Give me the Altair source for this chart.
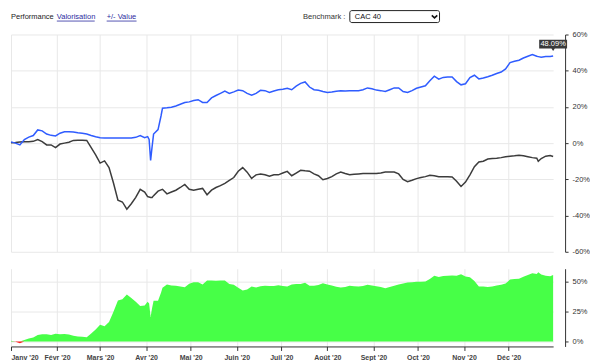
import altair as alt
import pandas as pd

# ---------------- data ----------------
DAY_OFFSETS = [0, 3, 6, 9, 12, 15, 18, 21, 24, 27, 30, 33, 36, 39, 42, 45, 48, 51, 54, 57,
               60, 63, 66, 69, 72, 75, 78, 81, 84, 87, 90, 92, 93, 94, 95, 96, 99, 101, 102,
               105, 108, 111, 114, 117, 120, 123, 126, 129, 132, 135, 138, 141, 144, 147, 150,
               153, 156, 159, 162, 165, 168, 171, 174, 177, 180, 183, 186, 189, 192, 195, 198,
               201, 204, 207, 210, 213, 216, 219, 222, 225, 228, 231, 234, 237, 240, 243, 246,
               249, 252, 255, 258, 261, 264, 267, 270, 273, 276, 279, 282, 285, 288, 291, 294,
               297, 300, 303, 306, 309, 312, 315, 318, 321, 324, 327, 330, 333, 336, 339, 342,
               345, 348, 351, 354, 355, 357, 360, 363, 365]

PERFORMANCE = [0.7, 0.0, -1.0, 2.0, 3.3, 4.2, 7.3, 6.8, 5.0, 4.3, 4.0, 5.5, 6.3, 6.3, 6.2, 5.8,
               5.5, 5.0, 4.2, 3.5, 3.0, 2.8, 2.8, 2.8, 2.8, 2.8, 2.8, 2.8, 3.2, 4.2, 3.0, 3.6,
               2.0, -9.5, -2.0, 5.0, 7.5, 15.0, 19.3, 19.5, 19.8, 20.5, 21.5, 22.4, 22.8, 23.5,
               24.0, 22.5, 22.5, 25.0, 26.3, 27.5, 28.7, 27.5, 28.3, 29.3, 29.0, 27.5, 26.5,
               27.5, 29.2, 29.0, 28.0, 28.8, 29.5, 29.8, 30.3, 29.5, 31.5, 33.0, 33.8, 31.0,
               29.5, 29.2, 28.5, 28.0, 28.3, 28.7, 29.0, 28.8, 29.0, 29.0, 29.0, 29.5, 30.5,
               30.0, 29.3, 29.0, 28.5, 29.5, 30.5, 30.5, 28.5, 28.0, 29.0, 30.3, 31.0, 31.7,
               34.5, 37.0, 35.3, 36.3, 36.5, 36.5, 34.0, 32.2, 32.8, 36.2, 37.5, 35.5, 36.0,
               36.7, 37.5, 38.5, 39.3, 41.0, 44.5, 45.2, 45.8, 47.0, 48.0, 48.9, 48.0, 47.8,
               47.4, 47.8, 47.8, 48.09]

CAC40 = [0.2, 0.3, 0.6, 0.8, 0.8, 1.0, 2.0, 0.8, -1.0, -1.0, -2.5, -0.5, 0.0, 0.5, 1.5, 1.6,
         1.6, 1.5, -2.5, -6.5, -11.0, -9.8, -13.5, -22.0, -31.5, -32.5, -36.5, -33.5, -30.0,
         -25.5, -27.0, -29.5, -29.8, -30.0, -30.0, -29.0, -26.5, -25.8, -25.5, -28.0, -27.0,
         -26.0, -24.5, -22.8, -25.5, -26.0, -25.5, -25.0, -28.5, -26.0, -24.5, -23.5, -22.2,
         -20.6, -19.0, -15.5, -13.5, -16.0, -19.5, -17.5, -17.0, -17.5, -18.3, -17.5, -17.5,
         -16.5, -15.6, -18.0, -16.5, -15.0, -15.3, -15.5, -17.0, -18.0, -20.2, -19.5, -18.5,
         -17.0, -16.0, -16.8, -17.5, -17.2, -17.0, -16.8, -16.8, -16.8, -16.8, -16.5, -16.0,
         -16.0, -16.0, -17.0, -20.0, -21.3, -20.5, -19.6, -19.0, -18.5, -17.8, -18.0, -18.5,
         -18.5, -18.5, -18.7, -21.0, -23.9, -21.5, -17.5, -13.0, -10.4, -10.0, -8.8, -8.5,
         -8.3, -8.0, -7.5, -7.2, -7.0, -6.7, -7.0, -7.5, -8.0, -8.3, -10.0, -8.5, -7.2, -6.8,
         -7.4]

MONTH_LABELS = ["Janv", "Févr", "Mars", "Avr", "Mai", "Juin", "Juil", "Août", "Sept", "Oct", "Nov", "Déc"]
YEAR_SUFFIX = "'20"
TOP_TICKS = [-60, -40, -20, 0, 20, 40, 60]
BOTTOM_TICKS = [0, 25, 50]
TABS = ["Performance", "Valorisation", "+/- Value"]
BENCHMARK_LABEL = "Benchmark :"
BENCHMARK_NAME = "CAC 40"

FONT = "Liberation Sans"
GRID = "#e8e8e8"
AXIS = "#333333"

dates = (pd.Timestamp("2020-01-01") + pd.to_timedelta(DAY_OFFSETS, unit="D")).strftime("%Y-%m-%d")
df = pd.DataFrame({"date": dates, "perf": PERFORMANCE, "bench": CAC40})
tip = pd.DataFrame({"date": [dates[-1]], "value": [PERFORMANCE[-1]]})
one = pd.DataFrame({"k": [0]})

month_ticks = [alt.DateTime(year=2020, month=m, date=1, utc=True) for m in range(1, 13)]
xscale = alt.Scale(type="utc", nice=False, padding=0,
                   domain=[alt.DateTime(year=2020, month=1, date=1, utc=True),
                           alt.DateTime(year=2020, month=12, date=31, utc=True)])
month_arr = "[" + ",".join("'" + m + "'" for m in MONTH_LABELS) + "]"
month_expr = month_arr + "[utcmonth(datum.value)] + \" " + YEAR_SUFFIX + "\""

W = 544
OFF = 12

# ---------------- top panel ----------------
x_top = alt.X("date:T", scale=xscale, title=None,
              axis=alt.Axis(values=month_ticks, labels=False, ticks=False, domain=False,
                            grid=True, gridColor=GRID))
y_top = alt.Y("value:Q", scale=alt.Scale(domain=[-60, 60], nice=False, padding=0, zero=False),
              title=None,
              axis=alt.Axis(orient="right", values=TOP_TICKS, offset=OFF, labelOverlap=False,
                            labelExpr="datum.value + '%'", domainColor=AXIS, tickColor=AXIS,
                            tickSize=3, labelPadding=4, labelFontSize=7.5, labelColor="#333",
                            grid=True, gridColor=GRID))

lines = alt.Chart(df).transform_fold(["bench", "perf"], as_=["key", "value"]).mark_line(
    strokeWidth=1.5).encode(
    x=x_top, y=y_top,
    color=alt.Color("key:N", scale=alt.Scale(domain=["bench", "perf"], range=["#3c3c3c", "#2f5cff"]),
                    legend=None))

tip_box = alt.Chart(tip).mark_point(
    shape="M-1,-0.32L1,-0.32L1,0.32L0.12,0.32L0,0.5L-0.12,0.32L-1,0.32Z",
    size=784, filled=True, color="#3a3a3a", opacity=1, yOffset=-12).encode(
    x=x_top, y=y_top)
tip_text = alt.Chart(tip).transform_calculate(
    label="format(datum.value, '.2f') + '%'").mark_text(
    color="white", fontSize=7.5, dy=-12, font=FONT).encode(
    x=x_top, y=y_top, text="label:N")


def label(txt, x, color="#222", size=7.5):
    return alt.Chart(one).mark_text(text=txt, align="left", baseline="middle", fontSize=size,
                                    color=color, font=FONT).encode(x=alt.value(x), y=alt.value(-18))


def underline(x1, x2, color):
    return alt.Chart(one).mark_rule(color=color, strokeWidth=0.8).encode(
        x=alt.value(x1), x2=alt.value(x2), y=alt.value(-13.5))


LINK = "#2b2ba0"
header = [
    label(TABS[0], 0),
    label(TABS[1], 46, LINK), underline(46, 84, LINK),
    label(TABS[2], 96, LINK), underline(96, 126, LINK),
    label(BENCHMARK_LABEL, 293, "#333", 7.6),
    alt.Chart(one).mark_rect(fill="white", stroke="#222", strokeWidth=1, cornerRadius=2).encode(
        x=alt.value(340), x2=alt.value(430), y=alt.value(-24), y2=alt.value(-12)),
    label(BENCHMARK_NAME, 345, "#111"),
    alt.Chart(one).mark_point(shape="M-1,-0.45L0,0.45L1,-0.45", filled=False, strokeWidth=1.6,
                              size=30, color="#111", opacity=1).encode(
        x=alt.value(425), y=alt.value(-18)),
]

top = alt.layer(lines, tip_box, tip_text, *header).properties(width=W, height=218)

# ---------------- bottom panel ----------------
x_bot = alt.X("date:T", scale=xscale, title=None,
              axis=alt.Axis(values=month_ticks, labelExpr=month_expr, labelFlush=True, grid=True,
                            gridColor=GRID, domainColor=AXIS, tickColor=AXIS, tickSize=4,
                            labelPadding=3, labelFontSize=7, labelFontWeight="bold",
                            labelColor="#444", labelOverlap=False))
yscale_b = alt.Scale(domain=[-4.2, 60.8], nice=False, zero=False, padding=0)
y_axis_b = alt.Axis(orient="right", values=BOTTOM_TICKS, offset=OFF, labelExpr="datum.value + '%'",
                    domainColor=AXIS, tickColor=AXIS, tickSize=3, labelPadding=4,
                    labelFontSize=7.5, labelColor="#333", grid=True, gridColor=GRID,
                    labelOverlap=False)

base_b = alt.Chart(df).transform_calculate(
    pos="max(datum.perf - datum.bench, 0)",
    neg="min(datum.perf - datum.bench, 0)")
green = base_b.mark_area(color="#47ff47", opacity=1).encode(
    x=x_bot, y=alt.Y("pos:Q", scale=yscale_b, axis=y_axis_b, title=None), y2=alt.datum(0))
red = base_b.mark_area(color="#ff2020", opacity=1).encode(
    x=x_bot, y=alt.Y("neg:Q", scale=yscale_b, axis=y_axis_b, title=None), y2=alt.datum(0))

bottom = alt.layer(green, red).properties(width=W, height=78)

chart = alt.vconcat(top, bottom, spacing=17, bounds="flush").properties(
    padding={"left": 0, "top": 1, "right": 0, "bottom": 0}
).configure(font=FONT).configure_view(stroke=None).configure_axis(labelFont=FONT)

chart.save("out.html", embed_options={"renderer": "svg", "actions": False})
